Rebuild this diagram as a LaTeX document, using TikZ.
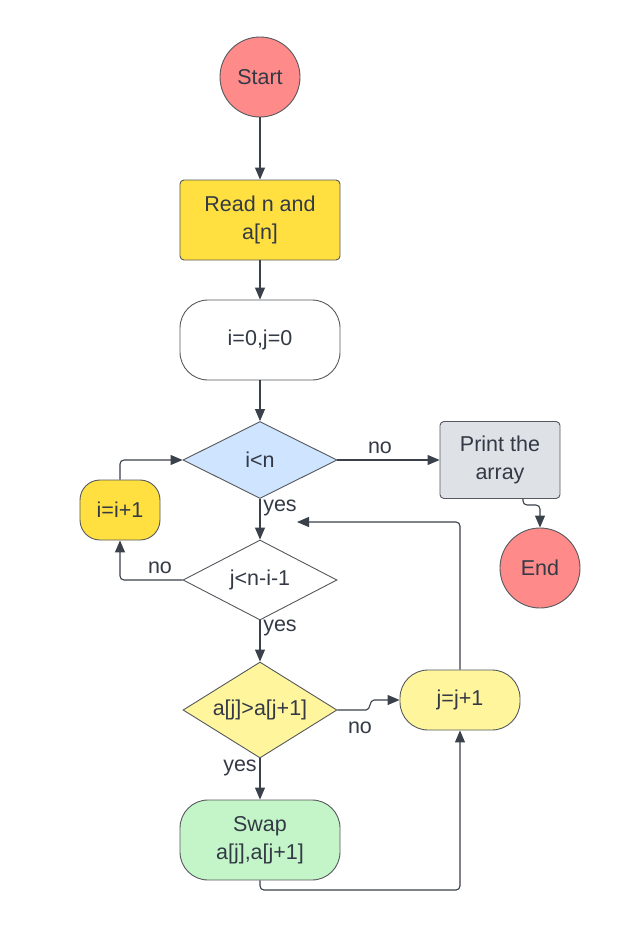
\documentclass[tikz,border=0pt]{standalone}
\usepackage{fontspec}
\setmainfont{Liberation Sans}
\usetikzlibrary{shapes.geometric,arrows.meta}
\definecolor{txt}{RGB}{51,58,69}
\definecolor{wire}{RGB}{58,65,74}
\definecolor{border}{RGB}{85,88,92}
\definecolor{salmon}{RGB}{255,138,138}
\definecolor{gold}{RGB}{255,224,64}
\definecolor{skyb}{RGB}{207,228,255}
\definecolor{greyb}{RGB}{222,225,230}
\definecolor{paley}{RGB}{255,245,157}
\definecolor{mint}{RGB}{195,245,200}
\begin{document}
\begin{tikzpicture}[x=1pt,y=1pt,
  every node/.style={text=txt,font=\fontsize{21.5}{28}\selectfont},
  shp/.style={draw=border,line width=0.9pt,align=center,inner sep=0pt},
  circ/.style={shp,circle,minimum size=80pt},
  boxr/.style={shp,rectangle,rounded corners=4pt},
  stad/.style={shp,rectangle,rounded corners=28pt},
  dia/.style={shp,diamond,shape aspect=2.5,minimum width=154pt},
  conn/.style={draw=wire,line width=1.1pt,-{Triangle[length=12pt,width=10pt]},rounded corners=4pt},
  lbl/.style={inner sep=0pt}]
\useasboundingbox (0,0) rectangle (620,-930);
\node[circ,fill=salmon] (start) at (260,-77) {Start};
\node[boxr,fill=gold,minimum width=160pt,minimum height=80pt] (read) at (260,-220) {Read n and\\a[n]};
\node[stad,fill=white,minimum width=160pt,minimum height=80pt] (init) at (260,-340) {i=0,j=0};
\node[dia,fill=skyb,minimum height=77pt] (cin) at (260,-460) {i<n};
\node[boxr,fill=greyb,minimum width=120pt,minimum height=77pt] (print) at (500,-460) {Print the\\array};
\node[circ,fill=salmon] (end) at (540,-568) {End};
\node[shp,rectangle,rounded corners=20pt,fill=gold,minimum width=80pt,minimum height=60pt] (inc) at (120,-510) {i=i+1};
\node[dia,fill=white,minimum height=80pt] (cj) at (260,-580) {j<n-i-1};
\node[dia,fill=paley,minimum height=96pt] (cmp) at (260,-710) {a[j]>a[j+1]};
\node[stad,fill=paley,minimum width=120pt,minimum height=60pt] (jinc) at (460,-700) {j=j+1};
\node[stad,fill=mint,minimum width=160pt,minimum height=80pt] (swap) at (260,-840) {Swap\\a[j],a[j+1]};

\coordinate (back) at (297,-522);
\draw[conn] (start) -- (read);
\draw[conn] (read) -- (init);
\draw[conn] (init) -- (cin);
\draw[conn] (cin.east) -- (print.west);
\draw[conn] (print.south -| 523,0) |- (540,-505) -- (end.north);
\draw[conn] (inc.north) |- (cin.west);
\draw[conn] (cin.south) -- (cj.north);
\draw[conn] (cj.west) -| (inc.south);
\draw[conn] (cj.south) -- (cmp.north);
\draw[conn] (cmp.south) -- (swap.north);
\draw[conn,rounded corners=0pt] (cmp.east) -- (366,-710) .. controls (371,-710) and (369,-700) .. (374,-700) -- (jinc.west);
\draw[conn] (swap.south) |- (460,-890) -- (jinc.south);
\draw[conn] (jinc.north) |- (back);

\node[lbl] (l1) at (380,-448) {no};
\node[lbl] (l2) at (280,-508) {yes};
\node[lbl] (l3) at (160,-568) {no};
\node[lbl] (l4) at (280,-628) {yes};
\node[lbl] (l5) at (360,-728) {no};
\node[lbl] (l6) at (240,-768) {yes};
\end{tikzpicture}
\end{document}
